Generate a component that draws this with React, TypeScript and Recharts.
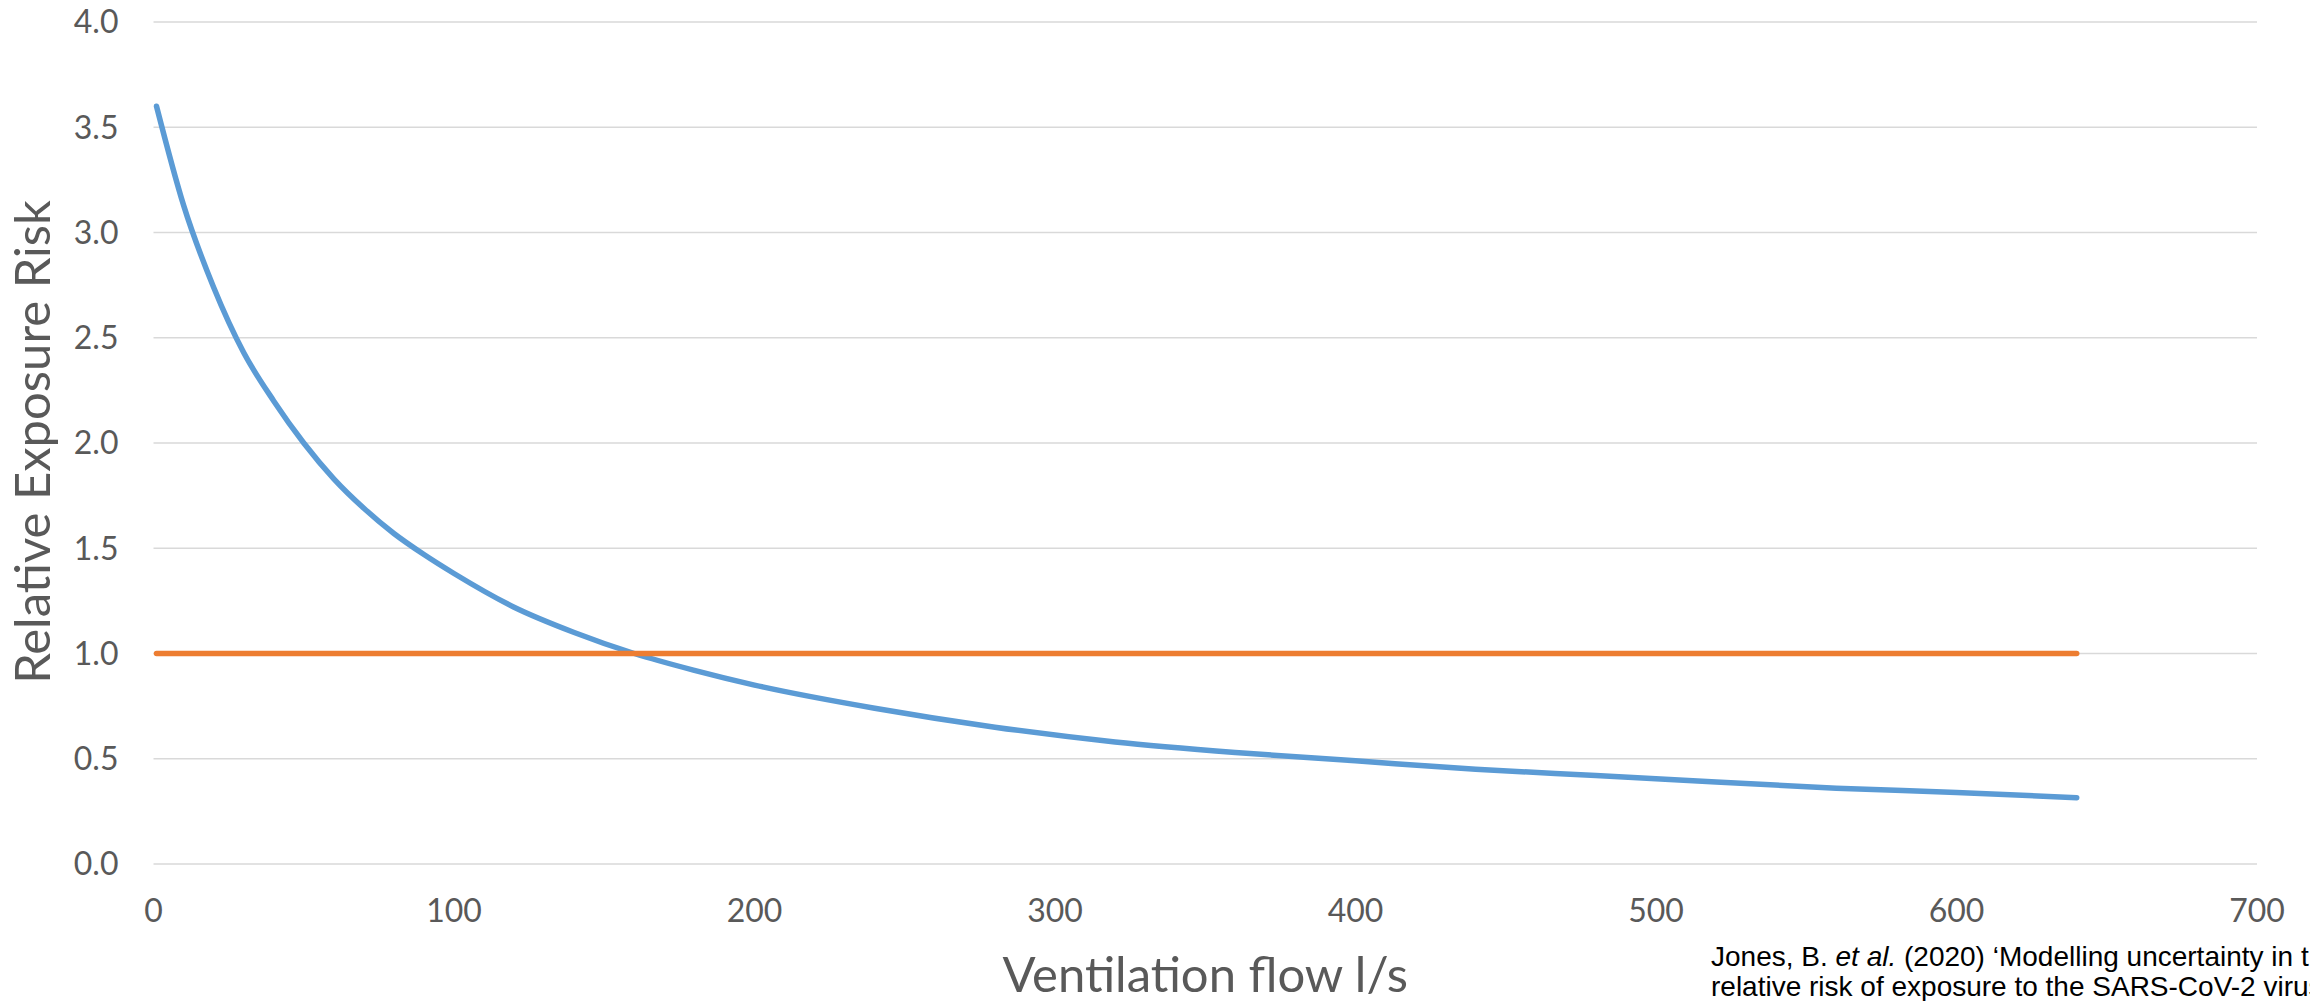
import React from "react";
import {
  LineChart,
  Line,
  XAxis,
  YAxis,
  CartesianGrid,
  Label,
} from "recharts";

// ventilation flow (l/s) and relative exposure risk
const flowValues = [1, 10, 20, 30, 40, 50, 60, 70, 80, 90, 100, 120, 140, 160, 180, 200, 240, 280, 320, 360, 400, 440, 480, 520, 560, 600, 640];
const riskValues = [3.6, 3.13, 2.74, 2.43, 2.2, 2.0, 1.83, 1.69, 1.57, 1.47, 1.38, 1.22, 1.1, 1.0, 0.92, 0.85, 0.74, 0.65, 0.58, 0.53, 0.49, 0.45, 0.42, 0.39, 0.36, 0.34, 0.315];

// reference risk of 1.0
const referenceFlow = [1, 640];
const referenceRisk = [1.0, 1.0];

const xTicks = [0, 100, 200, 300, 400, 500, 600, 700];
const yTicks = [0, 0.5, 1.0, 1.5, 2.0, 2.5, 3.0, 3.5, 4.0];

const curve = flowValues.map((f, i) => ({ flow: f, risk: riskValues[i] }));
const reference = referenceFlow.map((f, i) => ({ flow: f, risk: referenceRisk[i] }));

const GREY = "#595959";
const FONT = "Lato, 'Noto Sans', sans-serif";

export default function App() {
  return (
    <div
      style={{
        position: "fixed",
        top: 0,
        left: 0,
        width: 2310,
        height: 1001,
        overflow: "hidden",
        background: "#fff",
      }}
    >
      <LineChart
        width={2310}
        height={1001}
        margin={{ top: 22, right: 53, bottom: 0, left: 0 }}
      >
        <CartesianGrid vertical={false} stroke="#d9d9d9" strokeWidth={1.4} />
        <XAxis
          dataKey="flow"
          type="number"
          domain={[0, 700]}
          ticks={xTicks}
          height={137}
          axisLine={false}
          tickLine={false}
          tickMargin={29}
          tick={{ fill: GREY, fontSize: 32, fontFamily: FONT }}
          allowDuplicatedCategory={false}
        >
          <Label
            content={({ viewBox }: any) => (
              <text
                x={viewBox.x + viewBox.width / 2}
                y={viewBox.y + 128}
                textAnchor="middle"
                fill={GREY}
                fontSize={49}
                fontFamily={FONT}
              >
                Ventilation flow l/s
              </text>
            )}
          />
        </XAxis>
        <YAxis
          type="number"
          domain={[0, 4]}
          ticks={yTicks}
          width={153.5}
          axisLine={false}
          tickLine={false}
          tickMargin={29}
          tickFormatter={(v: number) => v.toFixed(1)}
          tick={{ fill: GREY, fontSize: 32, fontFamily: FONT }}
        >
          <Label
            content={({ viewBox }: any) => {
              const x = viewBox.x + 50;
              const y = viewBox.y + viewBox.height / 2 - 1;
              return (
                <text
                  x={x}
                  y={y}
                  transform={`rotate(-90, ${x}, ${y})`}
                  textAnchor="middle"
                  fill={GREY}
                  fontSize={49}
                  fontFamily={FONT}
                >
                  Relative Exposure Risk
                </text>
              );
            }}
          />
        </YAxis>
        <Line
          data={curve}
          dataKey="risk"
          type="monotone"
          stroke="#5B9BD5"
          strokeWidth={5.5}
          strokeLinecap="round"
          dot={false}
          activeDot={false}
          isAnimationActive={false}
        />
        <Line
          data={reference}
          dataKey="risk"
          type="linear"
          stroke="#ED7D31"
          strokeWidth={5.5}
          strokeLinecap="round"
          dot={false}
          activeDot={false}
          isAnimationActive={false}
        />
      </LineChart>
      <div
        style={{
          position: "absolute",
          left: 1711,
          top: 942,
          fontFamily: "'Liberation Sans', Arial, sans-serif",
          fontSize: 28,
          lineHeight: "29.5px",
          color: "#000",
          whiteSpace: "nowrap",
        }}
      >
        <div>
          Jones, B. <i>et al.</i> (2020) ‘Modelling uncertainty in the
        </div>
        <div>relative risk of exposure to the SARS-CoV-2 virus by airborne</div>
      </div>
    </div>
  );
}
